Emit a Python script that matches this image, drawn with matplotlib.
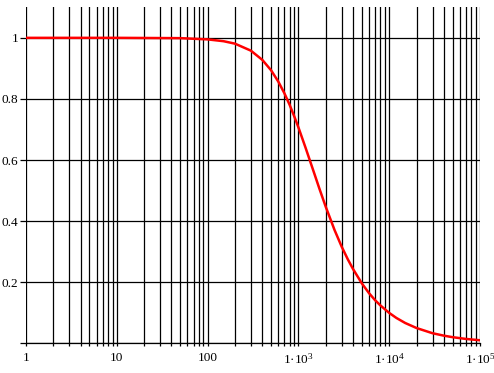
import matplotlib
matplotlib.use("Agg")
import matplotlib.pyplot as plt
from matplotlib.ticker import LogLocator, FixedLocator, NullFormatter

plt.rcParams['font.family'] = ['Liberation Serif', 'DejaVu Serif']
plt.rcParams['mathtext.fontset'] = 'custom'
plt.rcParams['mathtext.rm'] = 'Liberation Serif'
plt.rcParams['mathtext.it'] = 'Liberation Serif'

# Werte
freq = [1, 10, 50, 100, 150, 200, 300, 400, 500, 600, 700, 800, 900, 1000,
        1200, 1500, 1700, 2000, 2500, 3000, 3500, 4000, 5000, 6000, 7000,
        8000, 10000, 12000, 15000, 20000, 30000, 40000, 50000, 70000, 100000]
gain = [1.0, 1.0, 0.999, 0.995, 0.989, 0.981, 0.958, 0.928, 0.894, 0.857,
        0.819, 0.781, 0.743, 0.707, 0.640, 0.555, 0.507, 0.447, 0.371, 0.316,
        0.275, 0.243, 0.196, 0.164, 0.141, 0.124, 0.0995, 0.083, 0.0665,
        0.050, 0.033, 0.025, 0.020, 0.0143, 0.010]

x_ticks = [1, 10, 100, 1000, 10000, 100000]
x_labels = ['1', '10', '100', '1·10$^{3}$', '1·10$^{4}$', '1·10$^{5}$']
y_ticks = [0, 0.2, 0.4, 0.6, 0.8, 1.0]
y_labels = ['', '0.2', '0.4', '0.6', '0.8', '1']

fig = plt.figure(figsize=(4.94, 3.73), dpi=100)
ax = fig.add_axes([26/494, 1 - 343.3/373, (480-26)/494, (343.3-7.3)/373])

ax.plot(freq, gain, color='red', linewidth=1.8, zorder=3)

ax.set_xscale('log')
ax.set_xlim(1, 1e5)
ax.set_ylim(0, 1.1)

ax.xaxis.set_major_locator(FixedLocator(x_ticks))
ax.set_xticklabels(x_labels)
ax.xaxis.set_minor_locator(LogLocator(base=10, subs=range(2, 10), numticks=20))
ax.xaxis.set_minor_formatter(NullFormatter())
ax.set_yticks(y_ticks)
ax.set_yticklabels(y_labels)

# Gitter: alle Dekadenteilungen, schwarz
ax.grid(True, which='both', axis='x', color='black', linewidth=0.9)
ax.grid(True, which='major', axis='y', color='black', linewidth=0.9)

for side in ['top', 'right', 'left']:
    ax.spines[side].set_visible(False)
ax.spines['bottom'].set_linewidth(0.9)

ax.tick_params(axis='x', which='both', length=2.5, width=0.9, pad=4, labelsize=9.5)
ax.tick_params(axis='y', length=4, width=0.9, pad=1.5, labelsize=9.5)

plt.savefig("out.png", dpi=100)
plt.close()
